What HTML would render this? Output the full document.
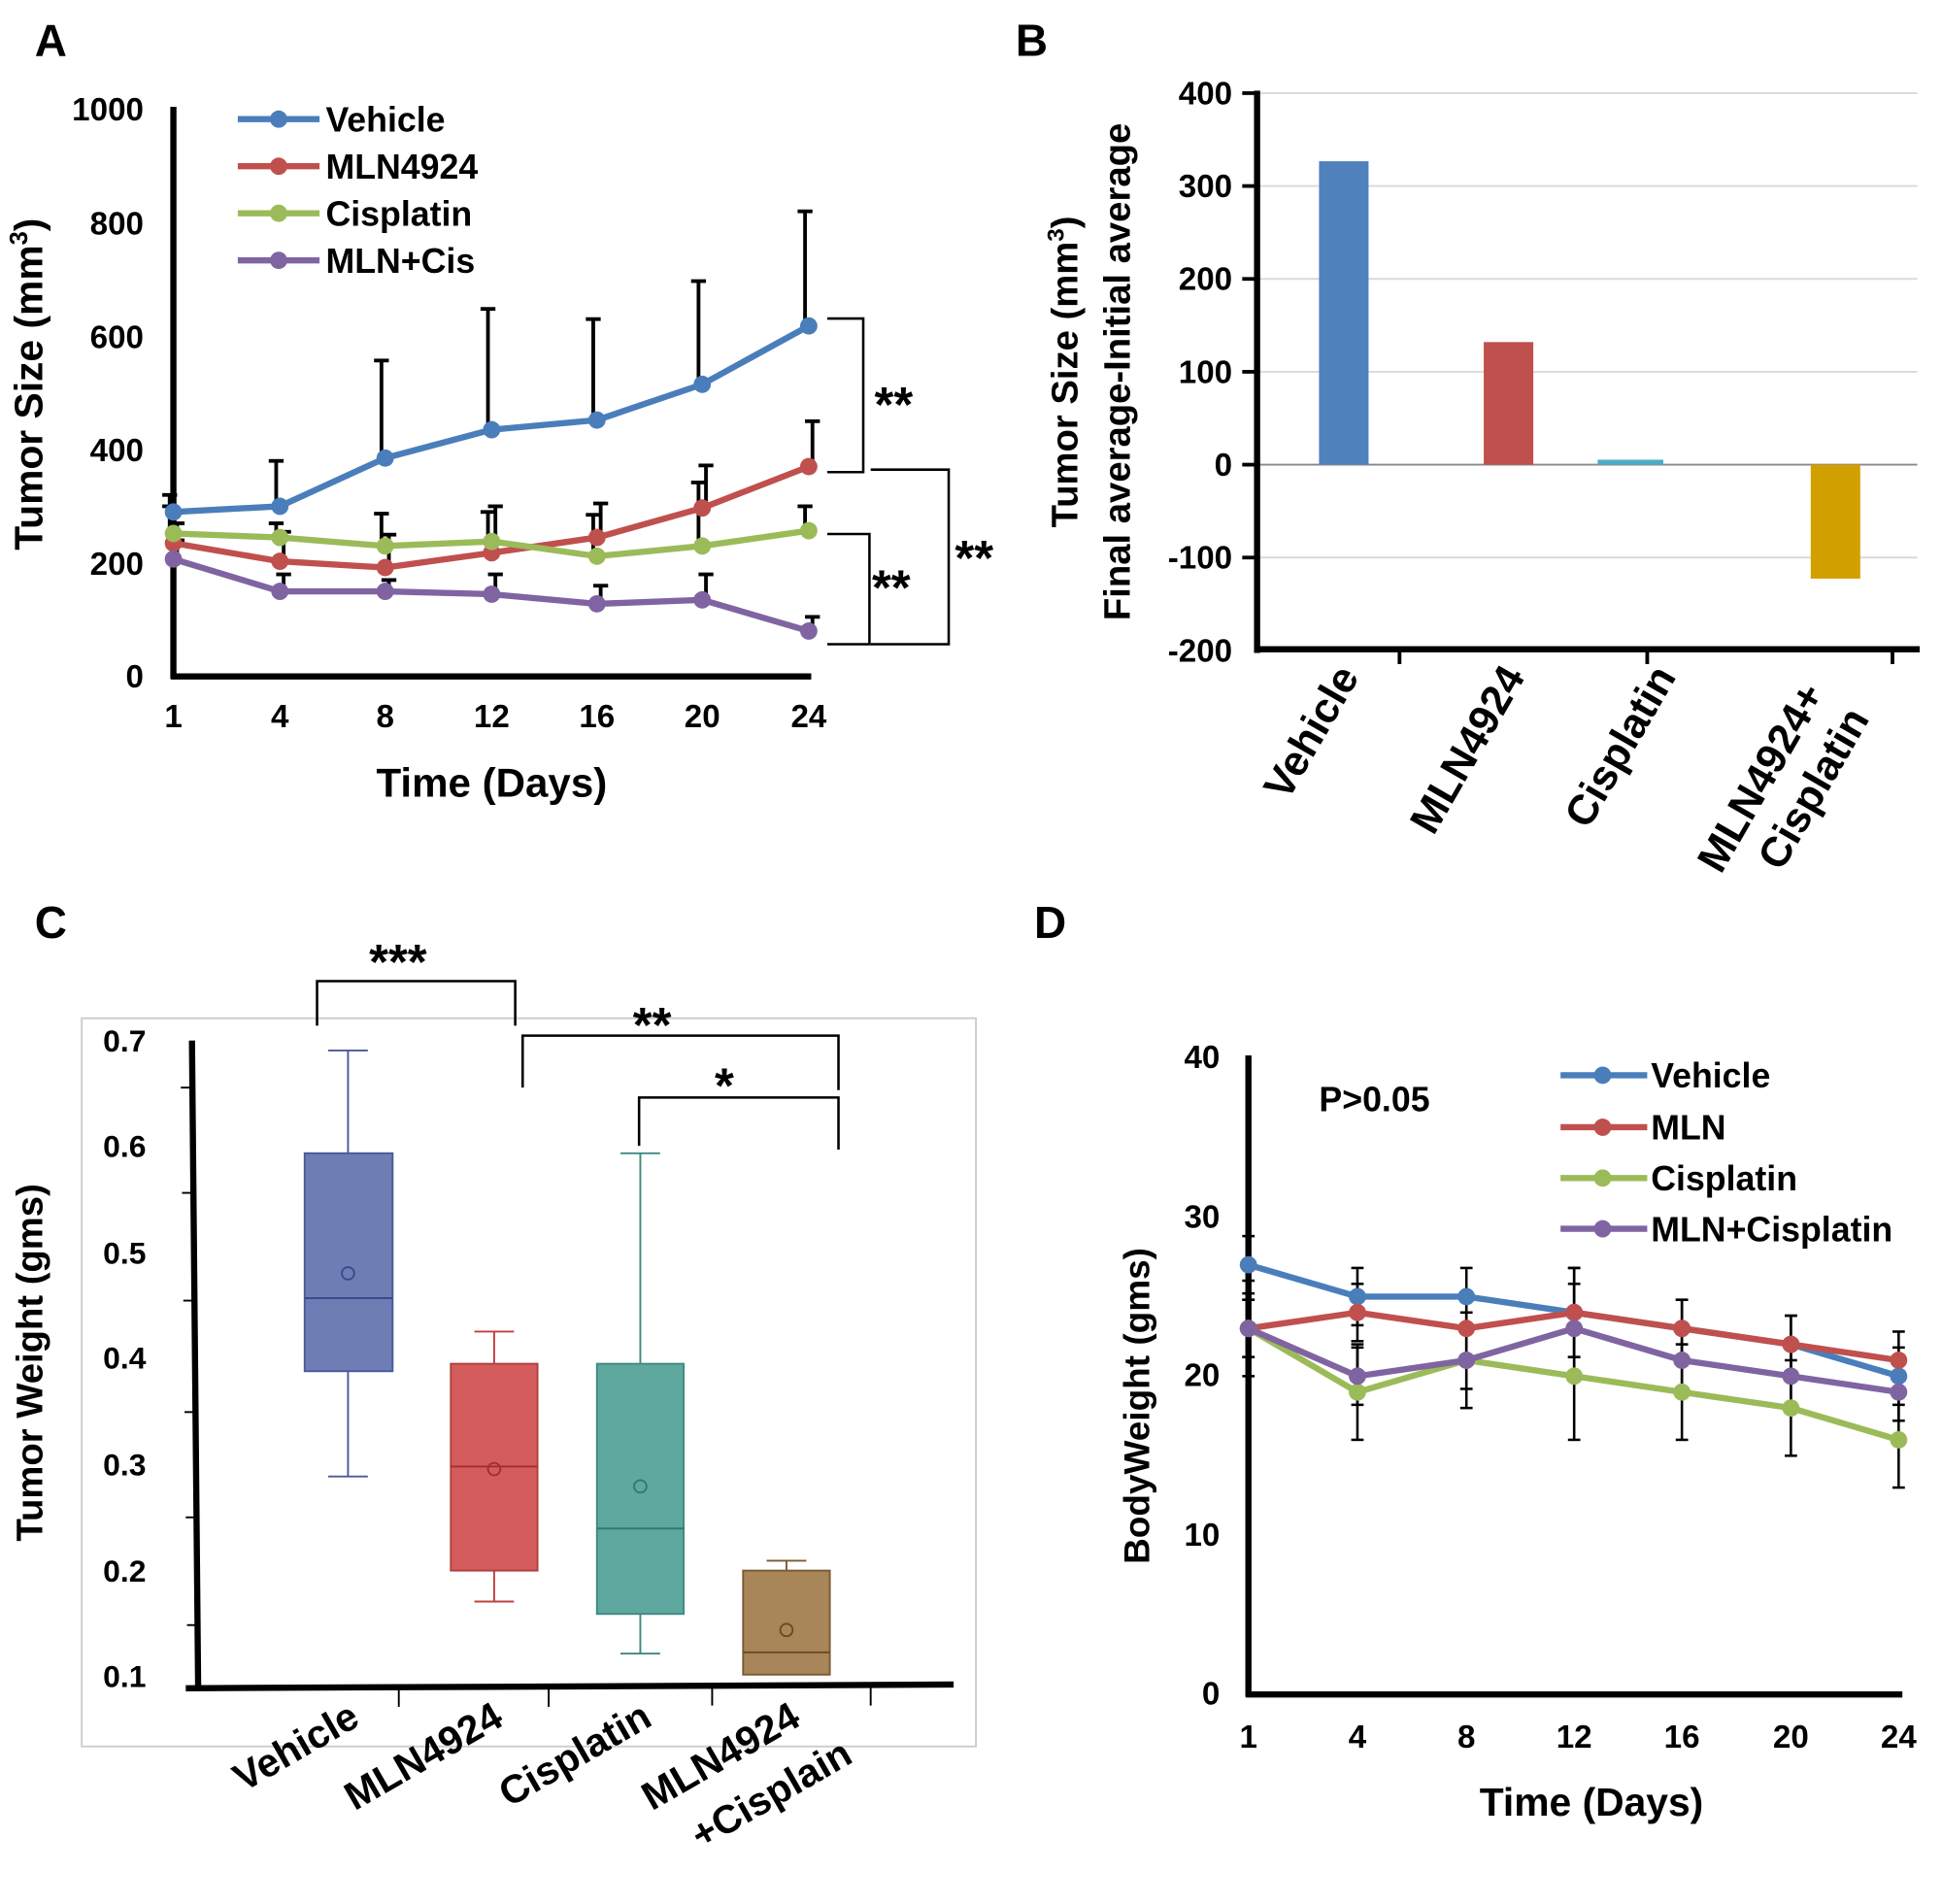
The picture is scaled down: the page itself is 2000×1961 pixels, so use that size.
<!DOCTYPE html>
<html><head><meta charset="utf-8"><style>
html,body{margin:0;padding:0;background:#fff}
svg{display:block}
text{font-family:"Liberation Sans",Arial,sans-serif;font-weight:bold;fill:#000}
</style></head><body>
<svg id="s" width="2000" height="1961" viewBox="0 0 1568 1537" xmlns="http://www.w3.org/2000/svg">
<text x="28" y="45" font-size="36">A</text>
<text x="820" y="45" font-size="36">B</text>
<text x="28" y="757" font-size="36">C</text>
<text x="835" y="757" font-size="36">D</text>

<g id="A">
<line x1="140" y1="86" x2="140" y2="548" stroke="#000" stroke-width="5"/>
<line x1="138" y1="546" x2="655" y2="546" stroke="#000" stroke-width="5"/>
<g font-size="26" text-anchor="end">
<text x="116" y="97">1000</text><text x="116" y="189">800</text><text x="116" y="281">600</text>
<text x="116" y="372">400</text><text x="116" y="464">200</text><text x="116" y="555">0</text>
</g>
<g font-size="26" text-anchor="middle">
<text x="140" y="587">1</text><text x="226" y="587">4</text><text x="311" y="587">8</text><text x="397" y="587">12</text>
<text x="482" y="587">16</text><text x="567" y="587">20</text><text x="653" y="587">24</text>
</g>
<text x="397" y="643" font-size="33" text-anchor="middle">Time (Days)</text>
<text transform="translate(34,310) rotate(-90)" font-size="32" text-anchor="middle">Tumor Size (mm<tspan font-size="20" dy="-12">3</tspan><tspan dy="12">)</tspan></text>
<g stroke="#000" stroke-width="2" fill="none">
<polyline points="668,257 697,257 697,381 668,381"/>
<polyline points="668,431 702,431 702,520 668,520"/>
<polyline points="703,379 766,379 766,520 703,520"/>
</g>
<text x="706" y="340" font-size="40">**</text>
<text x="704" y="488" font-size="40">**</text>
<text x="771" y="464" font-size="40">**</text>
<g font-size="28">
<text x="263" y="106">Vehicle</text><text x="263" y="144">MLN4924</text>
<text x="263" y="182">Cisplatin</text><text x="263" y="220">MLN+Cis</text>
</g>
</g>

<g id="B">
<g stroke="#d9d9d9" stroke-width="1.5">
<line x1="1015" y1="75" x2="1548" y2="75"/><line x1="1015" y1="150" x2="1548" y2="150"/>
<line x1="1015" y1="225" x2="1548" y2="225"/><line x1="1015" y1="300" x2="1548" y2="300"/>
<line x1="1015" y1="450" x2="1548" y2="450"/>
</g>
<line x1="1015" y1="375" x2="1548" y2="375" stroke="#888" stroke-width="1.5"/>
<rect x="1065" y="130" width="40" height="245" fill="#4f81bd"/>
<rect x="1198" y="276" width="40" height="99" fill="#c0504d"/>
<rect x="1290" y="371" width="53" height="4" fill="#4bacc6"/>
<rect x="1462" y="375" width="40" height="92" fill="#d29f00"/>
<line x1="1015" y1="73" x2="1015" y2="527" stroke="#000" stroke-width="5"/>
<line x1="1013" y1="524" x2="1550" y2="524" stroke="#000" stroke-width="5"/>
<g stroke="#000" stroke-width="3">
<line x1="1003" y1="75" x2="1015" y2="75"/><line x1="1003" y1="150" x2="1015" y2="150"/>
<line x1="1003" y1="225" x2="1015" y2="225"/><line x1="1003" y1="300" x2="1015" y2="300"/>
<line x1="1003" y1="375" x2="1015" y2="375"/><line x1="1003" y1="450" x2="1015" y2="450"/>
<line x1="1130" y1="524" x2="1130" y2="536"/><line x1="1330" y1="524" x2="1330" y2="536"/>
<line x1="1528" y1="524" x2="1528" y2="536"/>
</g>
<g font-size="26" text-anchor="end">
<text x="995" y="84">400</text><text x="995" y="159">300</text><text x="995" y="234">200</text>
<text x="995" y="309">100</text><text x="995" y="384">0</text><text x="995" y="459">-100</text><text x="995" y="534">-200</text>
</g>
<g font-size="34" text-anchor="end">
<text transform="translate(1098,546) rotate(-60)">Vehicle</text>
<text transform="translate(1232,546) rotate(-60)">MLN4924</text>
<text transform="translate(1354,546) rotate(-60)">Cisplatin</text>
<text transform="translate(1474,560) rotate(-60)">MLN4924+</text>
<text transform="translate(1510,580) rotate(-60)">Cisplatin</text>
</g>
<text transform="translate(870,300) rotate(-90)" font-size="30" text-anchor="middle">Tumor Size  (mm<tspan font-size="19" dy="-11">3</tspan><tspan dy="11">)</tspan></text>
<text transform="translate(912,300) rotate(-90)" font-size="30" text-anchor="middle">Final average-Initial average</text>
</g>

<g id="C">
<rect x="66" y="822" width="722" height="588" fill="none" stroke="#ccc" stroke-width="1.5"/>
<g font-size="25" text-anchor="end">
<text x="118" y="849">0.7</text><text x="118" y="934">0.6</text><text x="118" y="1020">0.5</text>
<text x="118" y="1105">0.4</text><text x="118" y="1191">0.3</text><text x="118" y="1277">0.2</text><text x="118" y="1362">0.1</text>
</g>
<g stroke="#000" stroke-width="1.5">
<line x1="146" y1="878" x2="155" y2="878"/><line x1="147" y1="963" x2="156" y2="963"/>
<line x1="148" y1="1050" x2="157" y2="1050"/><line x1="149" y1="1140" x2="157" y2="1140"/>
<line x1="150" y1="1225" x2="158" y2="1225"/><line x1="151" y1="1312" x2="159" y2="1312"/>
<line x1="322" y1="1362" x2="322" y2="1378"/><line x1="443" y1="1362" x2="443" y2="1378"/>
<line x1="575" y1="1361" x2="575" y2="1377"/><line x1="703" y1="1361" x2="703" y2="1377"/>
</g>
<g stroke-width="1.5">
<line x1="281" y1="848" x2="281" y2="1192" stroke="#4a5a9a"/>
<line x1="265" y1="848" x2="297" y2="848" stroke="#4a5a9a"/><line x1="265" y1="1192" x2="297" y2="1192" stroke="#4a5a9a"/>
<rect x="246" y="931" width="71" height="176" fill="#6f7db5" stroke="#4a5a9a"/>
<line x1="246" y1="1048" x2="317" y2="1048" stroke="#3a4a8a"/>
<circle cx="281" cy="1028" r="5" fill="none" stroke="#3a4a8a"/>
<line x1="399" y1="1075" x2="399" y2="1293" stroke="#c04040"/>
<line x1="383" y1="1075" x2="415" y2="1075" stroke="#c04040"/><line x1="383" y1="1293" x2="415" y2="1293" stroke="#c04040"/>
<rect x="364" y="1101" width="70" height="167" fill="#d45c5c" stroke="#b04040"/>
<line x1="364" y1="1184" x2="434" y2="1184" stroke="#a03030"/>
<circle cx="399" cy="1186" r="5" fill="none" stroke="#a03030"/>
<line x1="517" y1="931" x2="517" y2="1335" stroke="#3f8a80"/>
<line x1="501" y1="931" x2="533" y2="931" stroke="#3f8a80"/><line x1="501" y1="1335" x2="533" y2="1335" stroke="#3f8a80"/>
<rect x="482" y="1101" width="70" height="202" fill="#5fa89f" stroke="#3f8a80"/>
<line x1="482" y1="1234" x2="552" y2="1234" stroke="#2f7a70"/>
<circle cx="517" cy="1200" r="5" fill="none" stroke="#2f7a70"/>
<line x1="635" y1="1260" x2="635" y2="1268" stroke="#7a5a30"/>
<line x1="619" y1="1260" x2="651" y2="1260" stroke="#7a5a30"/>
<rect x="600" y="1268" width="70" height="84" fill="#a9855a" stroke="#7a5a30"/>
<line x1="600" y1="1334" x2="670" y2="1334" stroke="#6a4a20"/>
<circle cx="635" cy="1316" r="5" fill="none" stroke="#6a4a20"/>
</g>
<line x1="155" y1="840" x2="160" y2="1364" stroke="#000" stroke-width="5"/>
<line x1="150" y1="1363" x2="770" y2="1360" stroke="#000" stroke-width="5"/>
<g stroke="#000" stroke-width="2" fill="none">
<polyline points="256,828 256,792 416,792 416,828"/>
<polyline points="422,878 422,836 677,836 677,880"/>
<polyline points="516,925 516,886 677,886 677,928"/>
</g>
<text x="298" y="790" font-size="40">***</text>
<text x="511" y="841" font-size="40">**</text>
<text x="577" y="890" font-size="40">*</text>
<g font-size="32" text-anchor="end">
<text transform="translate(292,1392) rotate(-30)">Vehicle</text>
<text transform="translate(408,1392) rotate(-30)">MLN4924</text>
<text transform="translate(528,1392) rotate(-30)">Cisplatin</text>
<text transform="translate(648,1392) rotate(-30)">MLN4924</text>
<text transform="translate(690,1422) rotate(-30)">+Cisplain</text>
</g>
<text transform="translate(34,1100) rotate(-90)" font-size="30" text-anchor="middle">Tumor Weight (gms)</text>
</g>

<g id="D">
<line x1="1008" y1="852" x2="1008" y2="1370" stroke="#000" stroke-width="5"/>
<line x1="1006" y1="1368" x2="1536" y2="1368" stroke="#000" stroke-width="5"/>
<g font-size="26" text-anchor="end">
<text x="985" y="862">40</text><text x="985" y="991">30</text><text x="985" y="1119">20</text>
<text x="985" y="1248">10</text><text x="985" y="1376">0</text>
</g>
<g font-size="26" text-anchor="middle">
<text x="1008" y="1411">1</text><text x="1096" y="1411">4</text><text x="1184" y="1411">8</text><text x="1271" y="1411">12</text>
<text x="1358" y="1411">16</text><text x="1446" y="1411">20</text><text x="1533" y="1411">24</text>
</g>
<text x="1285" y="1466" font-size="32" text-anchor="middle">Time (Days)</text>
<text transform="translate(928,1135) rotate(-90)" font-size="29" text-anchor="middle">BodyWeight (gms)</text>
<text x="1065" y="897" font-size="28">P&gt;0.05</text>
<g font-size="28">
<text x="1333" y="878">Vehicle</text><text x="1333" y="920">MLN</text>
<text x="1333" y="961">Cisplatin</text><text x="1333" y="1002">MLN+Cisplatin</text>
</g>
</g>
<g id="dyn"></g>
</svg>
<script>
var NS="http://www.w3.org/2000/svg",g=document.getElementById('dyn');
function el(t,a){var e=document.createElementNS(NS,t);for(var k in a)e.setAttribute(k,a[k]);g.appendChild(e);return e;}
var C=["#4a7ebb","#c0504d","#9bbb59","#8064a2"];
var ax=[140,226,311,397,482,567,653];function ay(v){return 546-0.458*v;}
var A=[[290,300,385,435,452,515,618],[235,203,192,218,245,297,370],[252,245,230,238,212,230,257],[207,150,150,145,128,135,80]];
var AE=[[320,380,557,648,630,697,820],[270,255,250,300,305,372,450],[300,270,287,290,285,342,300],[240,180,170,180,160,180,105]];
for(var s=0;s<4;s++)for(var i=0;i<7;i++){var x=ax[i]+(s%2?3:-3);el('line',{x1:x,y1:ay(A[s][i]),x2:x,y2:ay(AE[s][i]),stroke:'#000','stroke-width':3});el('line',{x1:x-6,y1:ay(AE[s][i]),x2:x+6,y2:ay(AE[s][i]),stroke:'#000','stroke-width':3});}
for(var s=0;s<4;s++){var p=ax.map(function(x,i){return x+','+ay(A[s][i]);}).join(' ');el('polyline',{points:p,fill:'none',stroke:C[s],'stroke-width':5});ax.forEach(function(x,i){el('circle',{cx:x,cy:ay(A[s][i]),r:7,fill:C[s]});});}
[96,134,172,210].forEach(function(y,s){el('line',{x1:192,y1:y,x2:258,y2:y,stroke:C[s],'stroke-width':5});el('circle',{cx:225,cy:y,r:7,fill:C[s]});});
var dx=[1008,1096,1184,1271,1358,1446,1533];function dy(v){return 1368-12.85*v;}
var D=[[27,25,25,24,23,22,20],[23,24,23,24,23,22,21],[23,19,21,20,19,18,16],[23,20,21,23,21,20,19]];
for(var s=0;s<4;s++)for(var i=0;i<7;i++){var v=D[s][i],e=(s==2?3:1.8)+(i==3?1:0);var x=dx[i];el('line',{x1:x,y1:dy(v-e),x2:x,y2:dy(v+e),stroke:'#000','stroke-width':2});el('line',{x1:x-5,y1:dy(v+e),x2:x+5,y2:dy(v+e),stroke:'#000','stroke-width':2});el('line',{x1:x-5,y1:dy(v-e),x2:x+5,y2:dy(v-e),stroke:'#000','stroke-width':2});}
for(var s=0;s<4;s++){var p=dx.map(function(x,i){return x+','+dy(D[s][i]);}).join(' ');el('polyline',{points:p,fill:'none',stroke:C[s],'stroke-width':5});dx.forEach(function(x,i){el('circle',{cx:x,cy:dy(D[s][i]),r:7,fill:C[s]});});}
[868,910,951,992].forEach(function(y,s){el('line',{x1:1260,y1:y,x2:1330,y2:y,stroke:C[s],'stroke-width':5});el('circle',{cx:1294,cy:y,r:7,fill:C[s]});});
</script>
</body></html>
